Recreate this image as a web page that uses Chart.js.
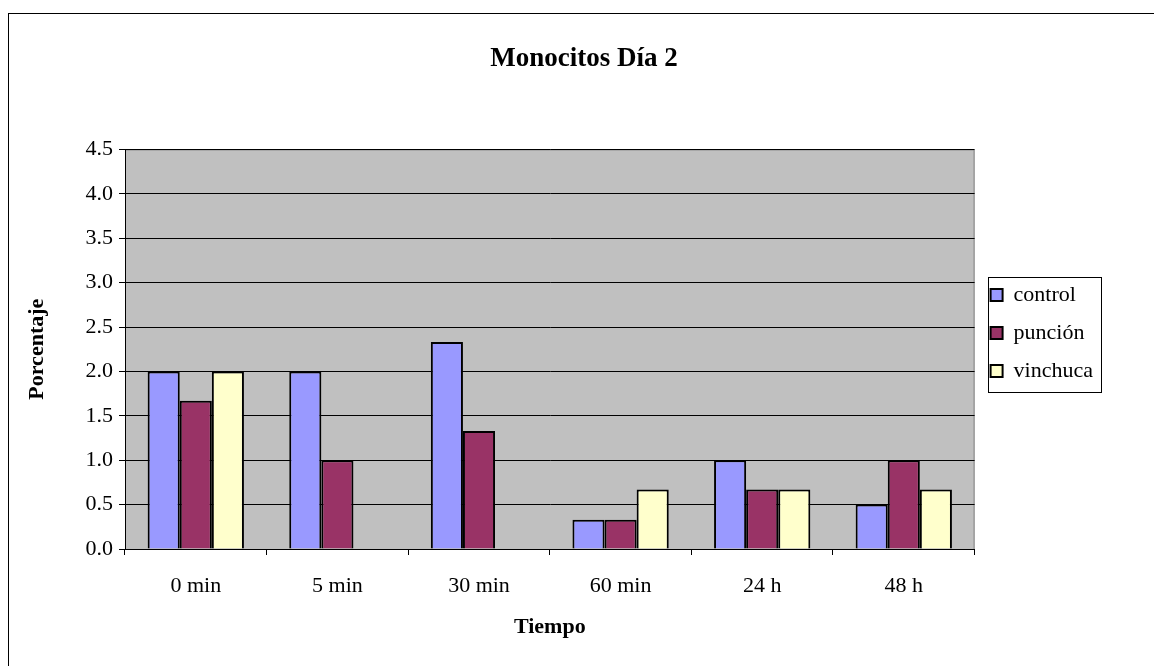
<!DOCTYPE html>
<html>
<head>
<meta charset="utf-8">
<script src="https://cdn.jsdelivr.net/npm/chart.js@4"></script>
<style>
  body { margin: 0; background: #fff; }
</style>
</head>
<body>
<canvas id="grafico" width="1154" height="666"></canvas>
<script>
const categorias = ["0 min", "5 min", "30 min", "60 min", "24 h", "48 h"];
const control = [2.0, 2.0, 2.33, 0.33, 1.0, 0.5];
const puncion = [1.67, 1.0, 1.33, 0.33, 0.67, 1.0];
const vinchuca = [2.0, null, null, 0.67, 0.67, 0.67];
const ticksY = ["0.0", "0.5", "1.0", "1.5", "2.0", "2.5", "3.0", "3.5", "4.0", "4.5"];

const serif = "'Liberation Serif', 'Times New Roman', serif";

// fondo, marco exterior, area gris y recuadro de la leyenda
const fondoPlugin = {
  id: "fondo",
  beforeDraw(chart) {
    const ctx = chart.ctx;
    const a = chart.chartArea;
    ctx.save();
    ctx.fillStyle = "#fff";
    ctx.fillRect(0, 0, chart.width, chart.height);
    ctx.strokeStyle = "#000";
    ctx.lineWidth = 1;
    ctx.strokeRect(8.5, 13.5, chart.width + 20, chart.height + 20);
    ctx.fillStyle = "#c0c0c0";
    ctx.fillRect(a.left, a.top, a.right - a.left, a.bottom - a.top);
    ctx.strokeStyle = "#808080";
    ctx.beginPath();
    ctx.moveTo(a.left, a.top + 0.5);
    ctx.lineTo(a.right - 0.5, a.top + 0.5);
    ctx.lineTo(a.right - 0.5, a.bottom);
    ctx.stroke();
    ctx.restore();
  },
  afterDraw(chart) {
    const cajas = chart.legend && chart.legend.legendHitBoxes;
    if (!cajas || !cajas.length) return;
    const x0 = Math.min(...cajas.map(c => c.left)) - 3;
    const x1 = Math.max(...cajas.map(c => c.left + c.width)) + 8;
    const y0 = Math.min(...cajas.map(c => c.top)) - 7;
    const y1 = Math.max(...cajas.map(c => c.top + c.height)) + 10;
    const ctx = chart.ctx;
    ctx.save();
    ctx.strokeStyle = "#000";
    ctx.lineWidth = 1;
    ctx.strokeRect(Math.round(x0) + 0.5, Math.round(y0) + 0.5, Math.round(x1 - x0), Math.round(y1 - y0));
    ctx.restore();
  }
};

new Chart(document.getElementById("grafico"), {
  type: "bar",
  data: {
    labels: categorias,
    datasets: [
      { label: "control", data: control, backgroundColor: "#9999ff", borderColor: "#000", borderWidth: 2 },
      { label: "punción", data: puncion, backgroundColor: "#993366", borderColor: "#000", borderWidth: 2 },
      { label: "vinchuca", data: vinchuca, backgroundColor: "#ffffcc", borderColor: "#000", borderWidth: 2 }
    ]
  },
  options: {
    responsive: false,
    devicePixelRatio: 1,
    animation: false,
    categoryPercentage: 0.68,
    barPercentage: 1,
    // padding izquierdo para centrar el titulo como en el original
    layout: { padding: { left: 65, top: 0, right: 51, bottom: 0 } },
    plugins: {
      title: {
        display: true,
        text: "Monocitos Día 2",
        color: "#000",
        font: { family: serif, size: 27, weight: "bold" },
        padding: { top: 43, bottom: 74 }
      },
      legend: {
        position: "right",
        labels: {
          color: "#000",
          font: { family: serif, size: 22 },
          boxWidth: 12,
          boxHeight: 12,
          padding: 16
        }
      },
      tooltip: { enabled: false }
    },
    scales: {
      x: {
        afterFit: s => { s.height = 117; },
        grid: { offset: true, drawOnChartArea: false, color: "#000", tickLength: 6 },
        border: { color: "#000" },
        ticks: { color: "#000", font: { family: serif, size: 22 }, padding: 18 },
        title: {
          display: true, text: "Tiempo", color: "#000",
          font: { family: serif, size: 22, weight: "bold" }, padding: { top: 0, bottom: 25 }
        }
      },
      y: {
        min: 0,
        max: 4.5,
        afterFit: s => { s.width = 60; },
        grid: { color: "#000", tickLength: 6 },
        border: { color: "#000" },
        ticks: {
          stepSize: 0.5,
          color: "#000",
          font: { family: serif, size: 22 },
          padding: 6,
          callback: (v, i) => ticksY[i]
        },
        title: {
          display: true, text: "Porcentaje", color: "#000",
          font: { family: serif, size: 22, weight: "bold" }, padding: { top: -41, bottom: 0 }
        }
      }
    }
  },
  plugins: [fondoPlugin]
});
</script>
</body>
</html>
